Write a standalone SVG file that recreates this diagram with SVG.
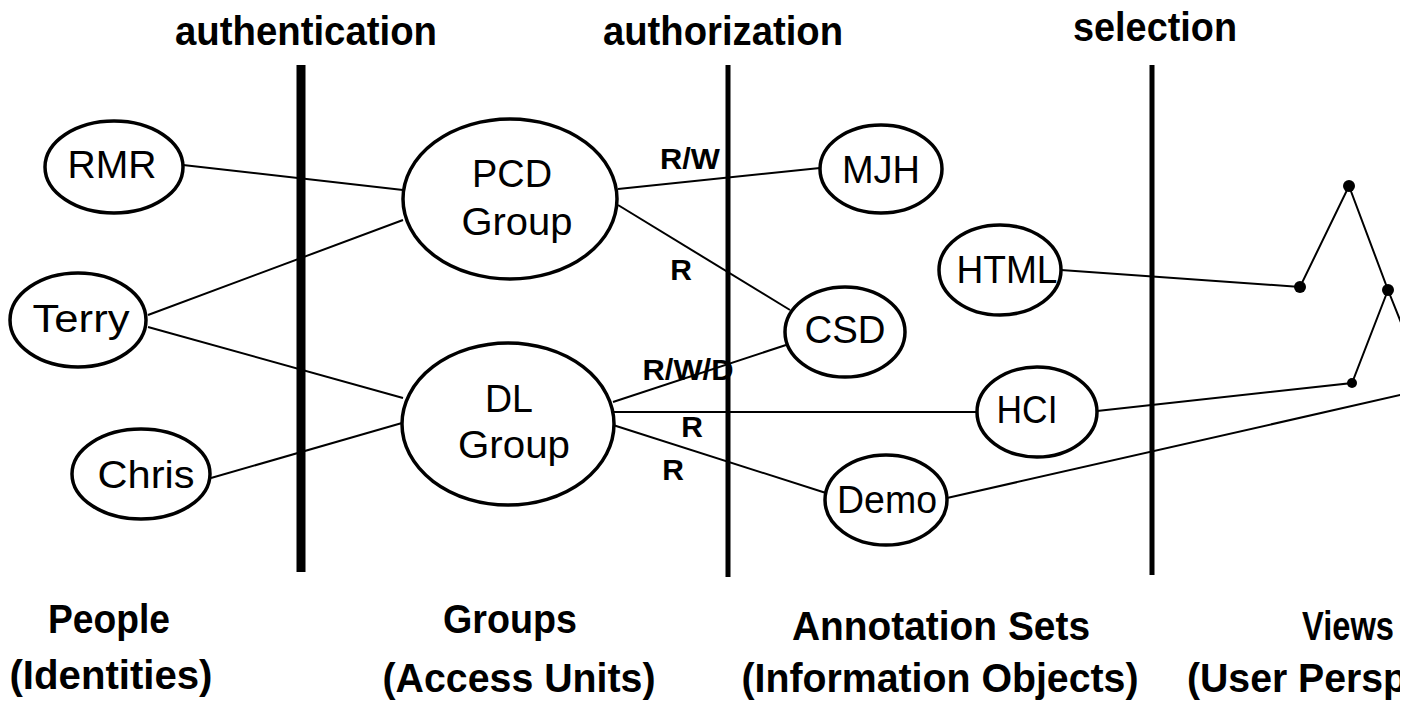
<svg xmlns="http://www.w3.org/2000/svg" width="1418" height="703" viewBox="0 0 1418 703">
<defs>
<clipPath id="clip"><rect x="0" y="0" width="1400" height="703"/></clipPath>
<style>
.node ellipse{fill:#fff;stroke:#000;stroke-width:3.5}
.nt{font-family:"Liberation Sans",Arial,sans-serif;font-size:38px;fill:#000;text-anchor:middle}
.el{font-family:"Liberation Sans",Arial,sans-serif;font-size:30px;font-weight:bold;fill:#000;text-anchor:middle}
.hd{font-family:"Liberation Sans",Arial,sans-serif;font-size:40px;font-weight:bold;fill:#000;text-anchor:middle}
.ft{font-family:"Liberation Sans",Arial,sans-serif;font-size:41px;font-weight:bold;fill:#000;text-anchor:middle}
.conn line,.conn polyline{stroke:#000;stroke-width:2;fill:none}
.dot{fill:#000}
</style>
</defs>
<rect width="1418" height="703" fill="#fff"/>
<g clip-path="url(#clip)">
<g id="headings">
<text class="hd" x="306" y="45" textLength="262" lengthAdjust="spacingAndGlyphs">authentication</text>
<text class="hd" x="723" y="45" textLength="240" lengthAdjust="spacingAndGlyphs">authorization</text>
<text class="hd" x="1155" y="41" textLength="164" lengthAdjust="spacingAndGlyphs">selection</text>
</g>
<g id="dividers">
<line x1="301" y1="65" x2="301" y2="572" stroke="#000" stroke-width="9"/>
<line x1="728" y1="65" x2="728" y2="577" stroke="#000" stroke-width="5"/>
<line x1="1152" y1="65" x2="1152" y2="575" stroke="#000" stroke-width="5"/>
</g>
<g id="connectors" class="conn">
<line x1="183" y1="165" x2="403" y2="190"/>
<line x1="148" y1="315" x2="403" y2="220"/>
<line x1="148" y1="327" x2="403" y2="398"/>
<line x1="211" y1="478" x2="402" y2="423"/>
<line x1="618" y1="189" x2="820" y2="168"/>
<line x1="618" y1="205" x2="790" y2="310"/>
<line x1="613" y1="402" x2="786" y2="345"/>
<line x1="613" y1="412" x2="977" y2="412"/>
<line x1="613" y1="425" x2="826" y2="493"/>
<polyline points="1061,270 1300,287 1349,186 1388,290 1404,330"/>
<polyline points="1097,411 1352,383 1388,290"/>
<line x1="947" y1="498" x2="1418" y2="391"/>
<circle class="dot" cx="1300" cy="287" r="6"/>
<circle class="dot" cx="1349" cy="186" r="6"/>
<circle class="dot" cx="1388" cy="290" r="6"/>
<circle class="dot" cx="1352" cy="383" r="5"/>
</g>
<g id="edge-labels">
<text class="el" x="690" y="169" textLength="60" lengthAdjust="spacingAndGlyphs">R/W</text>
<text class="el" x="681" y="280">R</text>
<text class="el" x="688" y="380" textLength="91" lengthAdjust="spacingAndGlyphs">R/W/D</text>
<text class="el" x="692" y="437">R</text>
<text class="el" x="673" y="480">R</text>
</g>
<g id="RMR" class="node"><ellipse cx="114" cy="167" rx="69" ry="46"/><text class="nt" x="112" y="178" textLength="89" lengthAdjust="spacingAndGlyphs">RMR</text></g>
<g id="Terry" class="node"><ellipse cx="78" cy="320" rx="68" ry="47"/><text class="nt" x="81" y="332" textLength="97" lengthAdjust="spacingAndGlyphs">Terry</text></g>
<g id="Chris" class="node"><ellipse cx="141" cy="474" rx="69" ry="45"/><text class="nt" x="146" y="488" textLength="97" lengthAdjust="spacingAndGlyphs">Chris</text></g>
<g id="PCDGroup" class="node"><ellipse cx="510" cy="199" rx="107" ry="80"/><text class="nt" x="512" y="187" textLength="80" lengthAdjust="spacingAndGlyphs">PCD</text><text class="nt" x="517" y="235" textLength="111" lengthAdjust="spacingAndGlyphs">Group</text></g>
<g id="DLGroup" class="node"><ellipse cx="508" cy="424" rx="106" ry="81"/><text class="nt" x="509" y="412" textLength="48" lengthAdjust="spacingAndGlyphs">DL</text><text class="nt" x="514" y="458" textLength="112" lengthAdjust="spacingAndGlyphs">Group</text></g>
<g id="MJH" class="node"><ellipse cx="881" cy="169" rx="61" ry="44"/><text class="nt" x="881" y="183" textLength="78" lengthAdjust="spacingAndGlyphs">MJH</text></g>
<g id="CSD" class="node"><ellipse cx="845" cy="332" rx="60" ry="45"/><text class="nt" x="845" y="343" textLength="81" lengthAdjust="spacingAndGlyphs">CSD</text></g>
<g id="HTML" class="node"><ellipse cx="1000" cy="270" rx="61" ry="45"/><text class="nt" x="1007" y="283" textLength="101" lengthAdjust="spacingAndGlyphs">HTML</text></g>
<g id="HCI" class="node"><ellipse cx="1037" cy="412" rx="60" ry="45"/><text class="nt" x="1027" y="423" textLength="61" lengthAdjust="spacingAndGlyphs">HCI</text></g>
<g id="Demo" class="node"><ellipse cx="886" cy="500" rx="61" ry="45"/><text class="nt" x="887" y="513" textLength="100" lengthAdjust="spacingAndGlyphs">Demo</text></g>
<g id="footer">
<text class="ft" x="109" y="633" textLength="122" lengthAdjust="spacingAndGlyphs">People</text>
<text class="ft" x="111" y="689" textLength="203" lengthAdjust="spacingAndGlyphs">(Identities)</text>
<text class="ft" x="510" y="633" textLength="134" lengthAdjust="spacingAndGlyphs">Groups</text>
<text class="ft" x="519" y="692" textLength="273" lengthAdjust="spacingAndGlyphs">(Access Units)</text>
<text class="ft" x="941" y="640" textLength="298" lengthAdjust="spacingAndGlyphs">Annotation Sets</text>
<text class="ft" x="940" y="692" textLength="397" lengthAdjust="spacingAndGlyphs">(Information Objects)</text>
<text class="ft" x="1348" y="640" textLength="92" lengthAdjust="spacingAndGlyphs">Views</text>
<text class="ft" x="1297" y="692" textLength="220" lengthAdjust="spacingAndGlyphs">(User Persp</text>
</g>
</g>
</svg>
